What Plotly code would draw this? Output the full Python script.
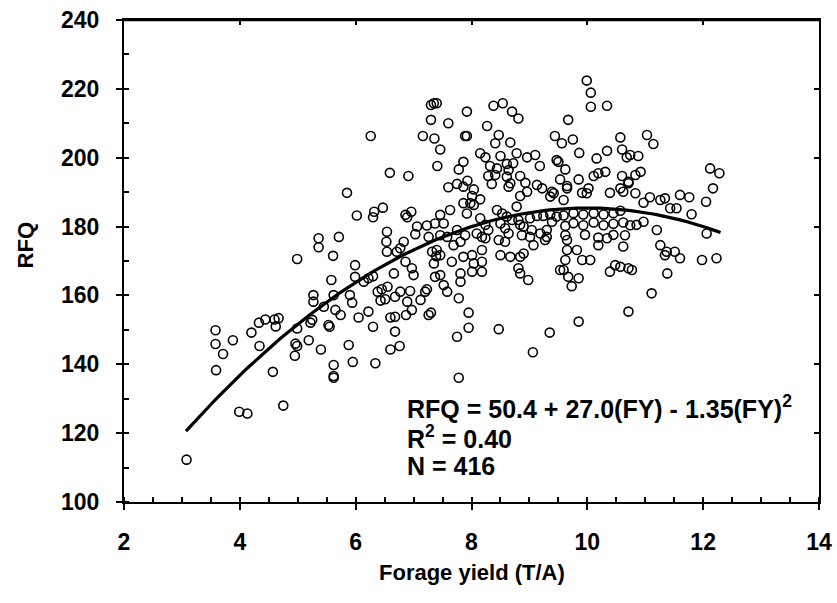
import plotly.graph_objects as go

# Forage yield (T/A) and RFQ
fy = [
    3.08, 3.58, 3.58, 3.59, 3.71, 3.88, 4.20, 4.33, 4.44, 4.34, 4.60, 4.67, 4.62, 4.57, 4.75, 3.99, 4.13,
    4.96, 4.99, 4.95, 4.99, 4.99,
    6.26, 7.30, 7.35, 7.40, 7.30, 7.16, 7.36, 7.46, 7.41, 6.59, 6.91, 5.85, 6.02, 6.32, 6.30, 6.47,
    6.86, 6.89, 6.96, 6.54, 7.06, 7.23, 7.37, 7.03, 7.26, 5.36, 5.71, 7.46,
    5.36, 5.61, 5.99, 5.58, 5.99, 6.14, 6.22, 6.30, 5.27, 5.27, 5.62, 5.45, 5.90, 5.94, 5.65, 5.74,
    5.53, 5.55, 5.25, 5.22, 5.19, 5.40, 5.88, 5.62, 5.62, 5.62, 5.95, 6.34, 6.05, 6.22, 6.30, 6.38,
    6.45, 6.43, 6.51, 6.55, 6.66, 6.54, 6.53, 6.71, 6.77, 6.83, 6.86, 6.68, 6.77, 6.94, 6.89, 6.97,
    6.87, 6.60, 6.68, 6.68, 6.60, 6.76, 6.97, 7.00, 7.12, 7.20, 7.23, 7.26, 7.30, 7.32, 7.35, 7.39, 7.37,
    8.38, 8.54, 8.70, 8.81, 7.92, 7.60, 8.27, 7.89, 7.92, 8.47, 8.41, 8.67, 9.44, 8.15, 8.24, 8.50,
    8.78, 8.96, 9.10, 9.47, 7.86, 7.78, 8.32, 8.44, 8.61, 8.64, 8.72, 9.18, 8.29, 8.41, 8.61, 8.67,
    8.84, 8.93, 9.13, 9.22, 9.39, 8.35, 8.64, 7.60, 7.75, 7.86, 7.93, 8.04, 8.01, 8.15, 7.98, 8.84,
    8.96, 9.36, 9.42, 7.86, 8.04, 8.78, 7.63, 8.44, 8.53, 8.61, 8.70, 8.81, 8.84, 7.52, 7.92, 8.15,
    8.24, 8.29, 8.50, 8.58, 8.64, 9.01, 9.13, 9.24, 8.90, 9.04, 9.19, 9.30, 9.39, 7.75, 7.89, 8.09,
    8.18, 8.87, 9.01,
    7.46, 7.58, 7.69, 7.81, 7.40, 7.46, 7.66, 7.86, 8.01, 8.04, 8.18, 8.18, 8.01, 7.81, 7.81, 7.46,
    7.52, 7.58, 7.78, 7.95, 7.95, 7.75, 8.47, 9.35, 9.06, 7.78, 8.18, 8.24, 8.47, 8.58, 8.50, 8.67,
    8.84, 8.90, 8.81, 8.84, 8.98, 9.07, 9.30, 9.27, 9.53,
    9.99, 10.06, 10.06, 10.34, 9.67, 9.56, 9.75, 10.57, 11.03, 11.14, 9.86, 10.34, 10.16, 10.60, 10.68,
    10.74, 10.88, 9.50, 9.62, 9.53, 9.85, 10.11, 10.19, 10.31, 10.60, 10.71, 10.83, 10.92, 9.65, 9.65,
    9.91, 10.02, 9.99, 10.39, 10.57, 10.62, 10.71, 10.83, 11.08, 10.97, 11.26, 11.34, 11.43, 11.54,
    11.60, 9.59, 9.36, 9.47, 9.59, 9.76, 9.93, 10.11, 10.28, 10.45, 10.57, 9.62, 9.76, 9.93, 10.11,
    10.28, 10.45, 10.62, 10.74, 9.62, 9.96, 10.19, 10.45, 10.65, 10.85, 10.97, 11.20,
    9.65, 9.65, 9.62, 9.59, 9.67, 9.73, 9.85, 9.91, 10.05, 9.82, 10.19, 10.34, 10.62, 10.39, 10.48,
    10.57, 10.71, 10.77, 11.26, 11.34, 11.37, 11.51, 11.60, 11.38, 11.11, 10.71, 9.85,
    12.12, 12.28, 12.17, 11.76, 12.05, 11.80, 12.06, 11.98, 12.23,
]
rfq = [
    112.3, 149.9, 145.9, 138.3, 143.0, 147.0, 149.2, 152.1, 153.0, 145.3, 153.0, 153.4, 151.0, 137.8, 128.0, 126.2, 125.7,
    146.0, 145.3, 142.5, 150.4, 170.6,
    206.3, 215.3, 215.8, 215.8, 211.0, 206.3, 205.6, 202.4, 197.6, 195.6, 194.7, 189.8, 183.2, 184.3, 182.7, 185.5,
    183.4, 182.7, 184.3, 178.5, 180.0, 180.3, 180.9, 177.8, 177.0, 176.6, 177.0, 183.4,
    174.0, 171.5, 168.8, 164.5, 165.4, 164.0, 165.0, 165.6, 160.1, 158.2, 160.1, 156.7, 160.1, 157.9, 155.8, 154.3,
    151.4, 150.9, 152.9, 152.1, 147.0, 144.3, 145.6, 139.8, 136.6, 136.1, 140.7, 140.3, 153.6, 155.3, 150.9, 161.1,
    161.8, 158.5, 158.9, 162.5, 166.4, 172.7, 175.6, 172.7, 173.7, 175.6, 169.8, 159.6, 161.1, 161.3, 158.2, 155.8,
    154.3, 153.6, 153.8, 149.5, 144.3, 145.3, 167.9, 165.9, 158.7, 161.1, 161.8, 154.3, 155.0, 172.7, 169.3, 171.4, 165.4,
    215.1, 215.8, 213.4, 211.4, 213.4, 210.0, 209.2, 206.3, 206.3, 206.6, 204.2, 204.4, 206.3, 201.3, 200.1, 200.5,
    201.3, 200.1, 200.8, 199.3, 198.8, 196.6, 197.6, 196.9, 198.2, 196.4, 198.4, 197.6, 194.7, 195.0, 194.5, 192.6,
    194.7, 192.7, 192.1, 191.1, 190.1, 192.4, 191.6, 191.4, 192.4, 191.6, 193.3, 190.8, 188.9, 187.9, 186.8, 188.9,
    190.1, 188.7, 189.7, 186.8, 186.3, 185.8, 184.8, 184.8, 183.8, 182.9, 181.9, 181.9, 180.5, 180.9, 183.8, 182.4,
    180.5, 179.0, 180.9, 179.5, 178.0, 182.4, 183.1, 183.1, 180.0, 179.0, 178.0, 179.0, 181.4, 179.0, 177.5, 178.0,
    177.0, 177.5, 177.0,
    177.5, 177.0, 174.6, 175.6, 173.2, 171.7, 169.8, 171.2, 171.7, 169.3, 169.8, 166.9, 166.9, 166.4, 164.0, 165.9,
    163.0, 161.1, 159.2, 155.0, 150.6, 148.0, 150.2, 149.2, 143.5, 136.1, 173.2, 176.6, 176.1, 175.6, 171.7, 171.2,
    171.2, 172.2, 167.9, 166.4, 164.5, 174.6, 177.0, 176.1, 167.4,
    222.4, 218.9, 214.8, 215.1, 211.0, 204.2, 205.3, 205.9, 206.6, 204.0, 201.4, 202.0, 199.8, 202.4, 200.1,
    200.8, 200.5, 198.8, 196.6, 193.7, 193.7, 194.7, 195.5, 195.9, 194.7, 193.0, 195.0, 195.9, 191.8, 191.1,
    189.8, 191.1, 189.7, 189.8, 191.1, 190.1, 192.6, 189.7, 188.5, 186.9, 187.7, 188.2, 185.3, 185.3,
    189.2, 187.7, 183.5, 182.9, 183.2, 183.9, 183.5, 183.9, 183.5, 183.9, 184.6, 180.2, 181.0, 180.4, 181.2,
    180.4, 180.8, 181.2, 180.4, 177.5, 177.6, 176.8, 177.6, 177.5, 180.5, 181.4, 179.0,
    176.1, 173.2, 170.3, 167.4, 165.4, 162.7, 165.0, 170.3, 170.3, 173.2, 174.6, 176.6, 174.2, 166.9, 168.8,
    168.3, 167.9, 167.4, 174.6, 171.7, 172.7, 172.7, 170.8, 166.4, 160.6, 155.3, 152.4,
    196.9, 195.5, 191.1, 188.5, 187.2, 183.6, 178.0, 170.3, 170.8,
]

# Fitted quadratic shown in the chart: RFQ = 50.4 + 27.0(FY) - 1.35(FY)^2
coef = [50.4, 27.0, -1.35]
fit_start, fit_end, fit_n = 3.07, 12.3, 120
fit_x = [fit_start + (fit_end - fit_start) * i / (fit_n - 1) for i in range(fit_n)]
fit_y = [coef[0] + coef[1] * v + coef[2] * v * v for v in fit_x]

x_ticks = [2, 4, 6, 8, 10, 12, 14]
y_ticks = [100, 120, 140, 160, 180, 200, 220, 240]

FONT = "Arial, Liberation Sans, sans-serif"
TICK_SIZE = 23
TITLE_SIZE = 22
EQ_SIZE = 25

fig = go.Figure()
fig.add_trace(go.Scatter(
    x=fy, y=rfq, mode="markers",
    marker=dict(symbol="circle-open", size=9, color="black", line=dict(width=1.6, color="black")),
    showlegend=False, hoverinfo="x+y",
))
fig.add_trace(go.Scatter(
    x=fit_x, y=fit_y, mode="lines",
    line=dict(color="black", width=3.2),
    showlegend=False, hoverinfo="skip",
))
# helper trace so the overlay axes (inside tick marks) are drawn
fig.add_trace(go.Scatter(x=[None], y=[None], xaxis="x2", yaxis="y2",
                         mode="markers", showlegend=False, hoverinfo="skip"))

common = dict(showgrid=False, zeroline=False, linecolor="black", linewidth=2,
              tickcolor="black", tickwidth=2, automargin=False, ticklabeloverflow="allow")

fig.update_layout(
    width=837, height=603,
    margin=dict(l=124, r=18, t=20, b=101, autoexpand=False),
    paper_bgcolor="white", plot_bgcolor="white",
    font=dict(family=FONT, color="black", size=TICK_SIZE),
    xaxis=dict(range=[2, 14], tickvals=x_ticks, ticks="outside", ticklen=6,
               showline=True, mirror=True,
               minor=dict(ticks="inside", ticklen=5, dtick=0.5, tickwidth=2, tickcolor="black"),
               tickfont=dict(family=FONT, size=TICK_SIZE, weight="bold"),
               ticklabelstandoff=12, **common),
    yaxis=dict(range=[100, 240], tickvals=y_ticks, ticks="outside", ticklen=6,
               showline=True, mirror=True,
               minor=dict(ticks="inside", ticklen=5, dtick=10, tickwidth=2, tickcolor="black"),
               tickfont=dict(family=FONT, size=TICK_SIZE, weight="bold"),
               ticklabelstandoff=12, **common),
    xaxis2=dict(range=[2, 14], tickvals=x_ticks, ticks="inside", ticklen=5,
                overlaying="x", anchor="y2", showticklabels=False,
                showline=True, mirror="ticks", **common),
    yaxis2=dict(range=[100, 240], tickvals=y_ticks, ticks="inside", ticklen=5,
                overlaying="y", anchor="x2", showticklabels=False,
                showline=True, mirror="ticks", **common),
    shapes=[
        dict(type="line", xref="paper", yref="paper", x0=0, y0=1, x1=1, y1=1,
             line=dict(color="black", width=2.5), layer="above"),
    ],
    annotations=[
        dict(text="<b>RFQ</b>", xref="paper", yref="paper", x=-0.142, y=0.533,
             textangle=-90, showarrow=False, font=dict(size=TITLE_SIZE, family=FONT),
             xanchor="center", yanchor="middle"),
        dict(text="<b>Forage yield (T/A)</b>", xref="paper", yref="paper", x=0.5, y=-0.147,
             showarrow=False, font=dict(size=TITLE_SIZE, family=FONT),
             xanchor="center", yanchor="middle"),
        dict(text="<b>RFQ = 50.4 + 27.0(FY) - 1.35(FY)<sup>2</sup></b>", xref="paper", yref="paper",
             x=0.404, y=0.197, showarrow=False, font=dict(size=EQ_SIZE, family=FONT),
             xanchor="left", yanchor="middle"),
        dict(text="<b>R<sup>2</sup> = 0.40</b>", xref="paper", yref="paper",
             x=0.404, y=0.135, showarrow=False, font=dict(size=EQ_SIZE, family=FONT),
             xanchor="left", yanchor="middle"),
        dict(text="<b>N = 416</b>", xref="paper", yref="paper",
             x=0.404, y=0.075, showarrow=False, font=dict(size=EQ_SIZE, family=FONT),
             xanchor="left", yanchor="middle"),
    ],
)

# remove the default 8px page margin so the figure sits at the window's top-left corner
fig.write_html("out.html", config={"displayModeBar": False},
               post_script="document.body.style.margin='0';document.body.style.overflow='hidden';")
